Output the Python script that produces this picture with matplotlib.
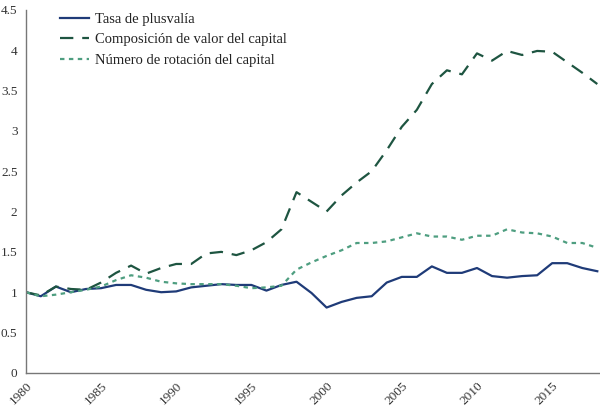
import numpy as np
import matplotlib
matplotlib.use("Agg")
import matplotlib.pyplot as plt

plt.rcParams['font.family'] = ['Liberation Serif', 'DejaVu Serif']

years = list(range(1980, 2019))

# tasa de plusvalia
plusvalia = [1.00, 0.95, 1.07, 1.00, 1.04, 1.05, 1.09, 1.09, 1.03, 1.00,
             1.01, 1.06, 1.08, 1.10, 1.09, 1.09, 1.02, 1.09, 1.13, 0.99,
             0.81, 0.88, 0.93, 0.95, 1.12, 1.19, 1.19, 1.32, 1.24, 1.24,
             1.30, 1.20, 1.18, 1.20, 1.21, 1.36, 1.36, 1.30, 1.26]

# composicion de valor del capital
composicion = [1.00, 0.96, 1.07, 1.04, 1.03, 1.12, 1.24, 1.33, 1.23, 1.30,
               1.35, 1.35, 1.48, 1.50, 1.46, 1.52, 1.62, 1.78, 2.24, 2.12,
               2.00, 2.20, 2.36, 2.50, 2.76, 3.05, 3.26, 3.58, 3.75, 3.70,
               3.96, 3.87, 3.99, 3.94, 3.99, 3.98, 3.85, 3.72, 3.58]

# numero de rotacion del capital
rotacion = [1.00, 0.95, 0.97, 1.00, 1.03, 1.07, 1.15, 1.21, 1.18, 1.13,
            1.11, 1.10, 1.10, 1.10, 1.08, 1.05, 1.06, 1.08, 1.28, 1.37,
            1.45, 1.52, 1.61, 1.61, 1.63, 1.68, 1.73, 1.69, 1.69, 1.65,
            1.70, 1.70, 1.78, 1.74, 1.73, 1.69, 1.61, 1.61, 1.55]

xticks = [1980, 1985, 1990, 1995, 2000, 2005, 2010, 2015]
yticks = [0, 0.5, 1, 1.5, 2, 2.5, 3, 3.5, 4, 4.5]

fig = plt.figure(figsize=(6, 4.08), dpi=100)
ax = fig.add_axes([0.043, 0.086, 0.955, 0.89])

ax.plot(years, plusvalia, color="#1f3b78", lw=1.6, label="Tasa de plusvalía")
ax.plot(years, composicion, color="#1e5541", lw=1.6, dashes=(6, 4),
        label="Composición de valor del capital")
ax.plot(years, rotacion, color="#4e9e80", lw=1.6, dashes=(2, 2),
        label="Número de rotación del capital")

ax.set_xlim(1980, 2018.1)
ax.set_ylim(0, 4.5)
ax.set_xticks(xticks)
ax.set_xticklabels([str(x) for x in xticks], rotation=45, ha="right",
                   rotation_mode="anchor", fontsize=9.5, color="#333333")
ax.set_yticks(yticks)
ax.set_yticklabels([f"{y:g}" for y in yticks], fontsize=9.5, color="#333333")
ax.tick_params(length=0, pad=6)
ax.tick_params(axis="x", pad=5)

for s in ["top", "right"]:
    ax.spines[s].set_visible(False)
for s in ["left", "bottom"]:
    ax.spines[s].set_color("#777777")
    ax.spines[s].set_linewidth(1.0)

leg = ax.legend(loc="upper left", bbox_to_anchor=(0.036, 1.028), frameon=False,
                fontsize=10.5, handlelength=2.0, handletextpad=0.45,
                labelspacing=0.5)
for t in leg.get_texts():
    t.set_color("#222222")

fig.savefig("out.png", dpi=100)
